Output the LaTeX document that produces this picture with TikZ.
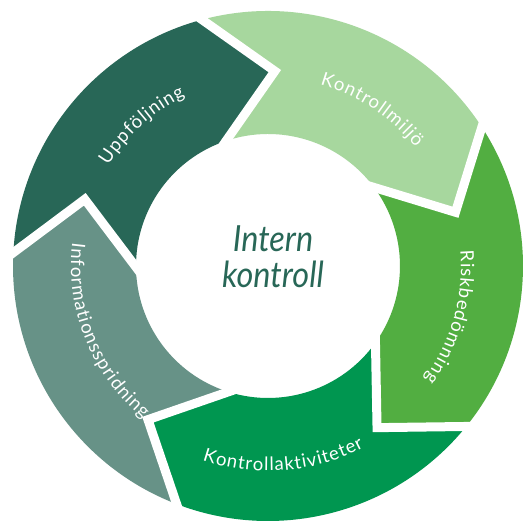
\documentclass[tikz,border=0pt]{standalone}
\usepackage{fontspec}
\setmainfont{Lato}
\newfontfamily\titlefamily[FakeStretch=0.9]{Lato}
\usetikzlibrary{decorations.text}
\definecolor{cUpp}{RGB}{40,103,87}
\definecolor{cKm}{RGB}{167,215,158}
\definecolor{cRisk}{RGB}{82,174,65}
\definecolor{cKa}{RGB}{0,150,80}
\definecolor{cInfo}{RGB}{103,146,135}
\definecolor{cText}{RGB}{40,103,87}
\newcommand\lblfont{\fontsize{18.5pt}{18.5pt}\selectfont\kern1pt}
\newcommand\segshape[3]{%
  \fill[#3] (#1:255pt) arc[start angle=#1, end angle=#2, radius=255pt]
    -- ({#2-17}:195pt) -- ({#2+3.5}:132pt)
    arc[start angle={#2+3.5}, end angle={#1+3.5}, radius=132pt]
    -- ({#1-17}:195pt) -- cycle;}
\newcommand\gapline[1]{%
  \draw[sepline] (#1:255pt) -- ({#1-17}:195pt) -- ({#1+3.5}:132pt);}
\tikzset{
  sepline/.style={white, line width=9pt, line join=miter, shorten <=-12pt, shorten >=-12pt},
  lbl/.style={decorate, decoration={text along path, text align=center, text color=white, text={|\lblfont|#1}}}
}
\begin{document}
\begin{tikzpicture}[x=1pt,y=1pt]
\useasboundingbox (0,0) rectangle (523,521);
\fill[white] (0,0) rectangle (523,521);
\begin{scope}[shift={(268,255)}]
  \segshape{177}{105}{cUpp}
  \segshape{105}{33}{cKm}
  \segshape{33}{-39}{cRisk}
  \segshape{-39}{-111}{cKa}
  \segshape{-111}{-183}{cInfo}
  \gapline{177}
  \gapline{105}
  \gapline{33}
  \gapline{-39}
  \gapline{-111}
  \path[lbl={Uppföljning}] (172:189pt) arc[start angle=172, end angle=92, radius=189pt];
  \path[lbl={Kontrollmiljö}] (96.5:189pt) arc[start angle=96.5, end angle=16.5, radius=189pt];
  \path[lbl={Riskbedömning}] (24.5:193pt) arc[start angle=24.5, end angle=-55.5, radius=193pt];
  \path[lbl={Kontrollaktiviteter}] (-125.5:205pt) arc[start angle=-125.5, end angle=-45.5, radius=205pt];
  \path[lbl={Informationsspridning}] (161.75:197pt) arc[start angle=161.75, end angle=241.75, radius=197pt];
  \node[align=center, text=cText, font=\titlefamily\itshape\fontsize{36pt}{36pt}\selectfont] (title) at (5,9) {Intern\\kontroll};
\end{scope}
\end{tikzpicture}
\end{document}
